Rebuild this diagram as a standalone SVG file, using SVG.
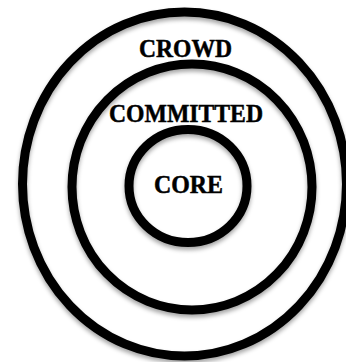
<svg xmlns="http://www.w3.org/2000/svg" width="346" height="362" viewBox="0 0 346 362">
<defs>
<filter id="sh" x="-20%" y="-20%" width="140%" height="140%">
<feDropShadow dx="0" dy="3" stdDeviation="2" flood-color="#000" flood-opacity="0.35"/>
</filter>
</defs>
<style>
.ring{fill:none;stroke:#000;stroke-width:9;filter:url(#sh)}
.lbl{font-family:"Liberation Serif","Times New Roman",serif;font-weight:bold;font-size:26px;fill:#000;stroke:#000;stroke-width:0.5;text-anchor:middle}
</style>
<rect width="346" height="362" fill="#fff"/>
<g id="crowd">
<ellipse class="ring" cx="184.5" cy="184" rx="162" ry="172"/>
<text class="lbl" x="185.5" y="57" textLength="93" lengthAdjust="spacingAndGlyphs">CROWD</text>
</g>
<g id="committed">
<ellipse class="ring" cx="192" cy="187" rx="120" ry="123"/>
<text class="lbl" x="186" y="122" textLength="154" lengthAdjust="spacingAndGlyphs">COMMITTED</text>
</g>
<g id="core">
<ellipse class="ring" cx="188" cy="186" rx="59" ry="56.5"/>
<text class="lbl" x="188.5" y="193" textLength="69" lengthAdjust="spacingAndGlyphs">CORE</text>
</g>
<g id="connectors"/>
</svg>
